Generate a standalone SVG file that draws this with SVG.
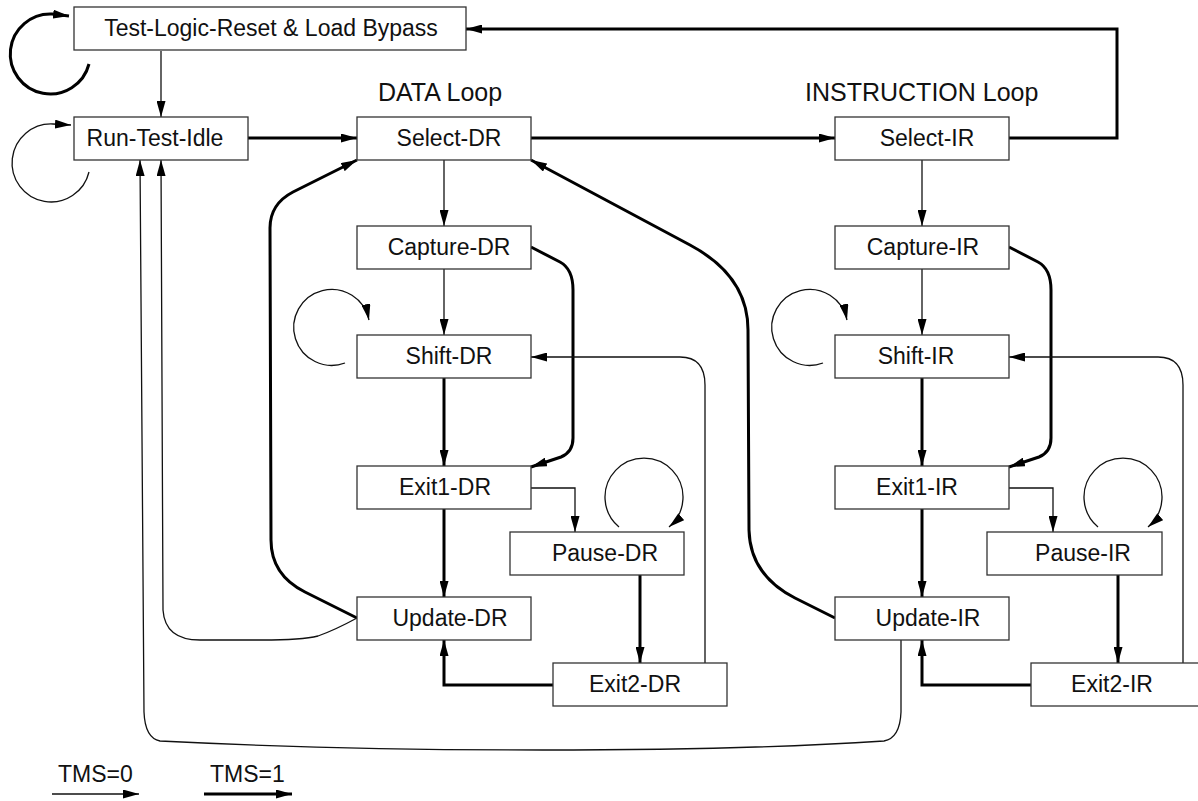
<svg xmlns="http://www.w3.org/2000/svg" width="1198" height="801" viewBox="0 0 1198 801">
<style>
.box{fill:#fff;stroke:#333;stroke-width:1.3}
.t{font-family:"Liberation Sans",Arial,sans-serif;font-size:23px;fill:#111;text-anchor:middle}
.tl{font-family:"Liberation Sans",Arial,sans-serif;font-size:23px;fill:#111}
.hd{font-family:"Liberation Sans",Arial,sans-serif;font-size:25px;fill:#111}
.thin{fill:none;stroke:#111;stroke-width:1.3;marker-end:url(#ah)}
.thick{fill:none;stroke:#000;stroke-width:3;marker-end:url(#ah)}
</style>
<defs>
<marker id="ah" viewBox="0 0 16 9" refX="16" refY="4.5" markerWidth="16" markerHeight="9" orient="auto" markerUnits="userSpaceOnUse">
<path d="M0,0 L16,4.5 L0,9 z" fill="#000"/>
</marker>
</defs>
<rect width="1198" height="801" fill="#fff"/>
<g id="connectors">
<!-- TLR self loop -->
<path class="thick" d="M89 64 A40 40 0 1 1 52 14 L69 16"/>
<!-- TLR -> RTI -->
<path class="thin" d="M161 51 L161 117"/>
<!-- RTI self loop -->
<path class="thin" d="M89 172 A39 39 0 1 1 53 124 L71 125"/>
<!-- RTI -> Select-DR -->
<path class="thick" d="M248 138 L357 138"/>
<!-- Select-DR -> Select-IR -->
<path class="thick" d="M531 138 L835 138"/>
<!-- Select-IR -> TLR -->
<path class="thick" d="M1009 138 L1117 138 L1117 29 L466 29"/>
<!-- DR column -->
<path class="thin" d="M444 160 L444 226"/>
<path class="thin" d="M444 269 L444 335"/>
<path class="thick" d="M444 378 L444 466"/>
<path class="thick" d="M444 509 L444 597"/>
<path class="thick" d="M531 247 L560 262 Q573 269 573 290 L573 438 Q573 452 561 457 L531 467"/>
<path class="thin" d="M345 363 A38 38 0 1 1 369 320"/>
<path class="thin" d="M705 663 L705 385 Q705 357 680 357 L531 357"/>
<path class="thin" d="M531 488 L575 488 L575 532"/>
<path class="thin" d="M619 527 A39 39 0 1 1 669 527"/>
<path class="thick" d="M640 575 L640 663"/>
<path class="thick" d="M553 685 L444 685 L444 640"/>
<path class="thick" d="M357 618 L305 592 Q271 575 271 540 L270 228 Q270 204 293 192 L357 160"/>
<path class="thin" d="M357 618 Q335 630 318 636 Q302 640 262 640 L200 640 Q165 640 163 610 L161 160"/>
<!-- IR column -->
<path class="thin" d="M922 160 L922 226"/>
<path class="thin" d="M922 269 L922 335"/>
<path class="thick" d="M922 378 L922 466"/>
<path class="thick" d="M922 509 L922 597"/>
<path class="thick" d="M1009 247 L1038 262 Q1051 269 1051 290 L1051 438 Q1051 452 1039 457 L1009 467"/>
<path class="thin" d="M823 363 A38 38 0 1 1 847 320"/>
<path class="thin" d="M1183 663 L1183 385 Q1183 357 1158 357 L1009 357"/>
<path class="thin" d="M1009 488 L1053 488 L1053 532"/>
<path class="thin" d="M1098 527 A39 39 0 1 1 1148 527"/>
<path class="thick" d="M1118 575 L1118 663"/>
<path class="thick" d="M1031 685 L922 685 L922 640"/>
<!-- Update-IR -> Select-DR -->
<path class="thick" d="M835 618 L795 598 Q750 575 749 530 L748 330 Q748 276 690 245 L531 160"/>
<!-- Update-IR -> RTI -->
<path class="thin" d="M901 640 L901 712 Q900 738 884 741 C700 753 400 753 160 741 Q145 738 144 712 L140 160"/>
<!-- legend -->
<path class="thin" d="M52 794 L139 794"/>
<path class="thick" d="M204 794 L292 794"/>
</g>
<g id="n-tlr"><rect class="box" x="74" y="7" width="392" height="43"/><text class="t" x="271" y="36">Test-Logic-Reset &amp; Load Bypass</text></g>
<g id="n-rti"><rect class="box" x="74" y="117" width="174" height="43"/><text class="t" x="155" y="146">Run-Test-Idle</text></g>
<g id="n-seldr"><rect class="box" x="357" y="117" width="174" height="43"/><text class="t" x="449" y="146">Select-DR</text></g>
<g id="n-capdr"><rect class="box" x="357" y="226" width="174" height="43"/><text class="t" x="449" y="255">Capture-DR</text></g>
<g id="n-shdr"><rect class="box" x="357" y="335" width="174" height="43"/><text class="t" x="449" y="364">Shift-DR</text></g>
<g id="n-e1dr"><rect class="box" x="357" y="466" width="174" height="43"/><text class="t" x="445" y="495">Exit1-DR</text></g>
<g id="n-pdr"><rect class="box" x="510" y="532" width="174" height="43"/><text class="t" x="605" y="561">Pause-DR</text></g>
<g id="n-updr"><rect class="box" x="357" y="597" width="174" height="43"/><text class="t" x="450" y="626">Update-DR</text></g>
<g id="n-e2dr"><rect class="box" x="553" y="663" width="174" height="43"/><text class="t" x="635" y="692">Exit2-DR</text></g>
<g id="n-selir"><rect class="box" x="835" y="117" width="174" height="43"/><text class="t" x="927" y="146">Select-IR</text></g>
<g id="n-capir"><rect class="box" x="835" y="226" width="174" height="43"/><text class="t" x="923" y="255">Capture-IR</text></g>
<g id="n-shir"><rect class="box" x="835" y="335" width="174" height="43"/><text class="t" x="916" y="364">Shift-IR</text></g>
<g id="n-e1ir"><rect class="box" x="835" y="466" width="174" height="43"/><text class="t" x="917" y="495">Exit1-IR</text></g>
<g id="n-pir"><rect class="box" x="987" y="532" width="175" height="43"/><text class="t" x="1083" y="561">Pause-IR</text></g>
<g id="n-upir"><rect class="box" x="835" y="597" width="174" height="43"/><text class="t" x="928" y="626">Update-IR</text></g>
<g id="n-e2ir"><rect class="box" x="1031" y="663" width="174" height="43"/><text class="t" x="1112" y="692">Exit2-IR</text></g>
<g id="labels">
<text class="hd" x="378" y="101">DATA Loop</text>
<text class="hd" x="805" y="101">INSTRUCTION Loop</text>
<text class="tl" x="58" y="782">TMS=0</text>
<text class="tl" x="210" y="782">TMS=1</text>
</g>
</svg>
